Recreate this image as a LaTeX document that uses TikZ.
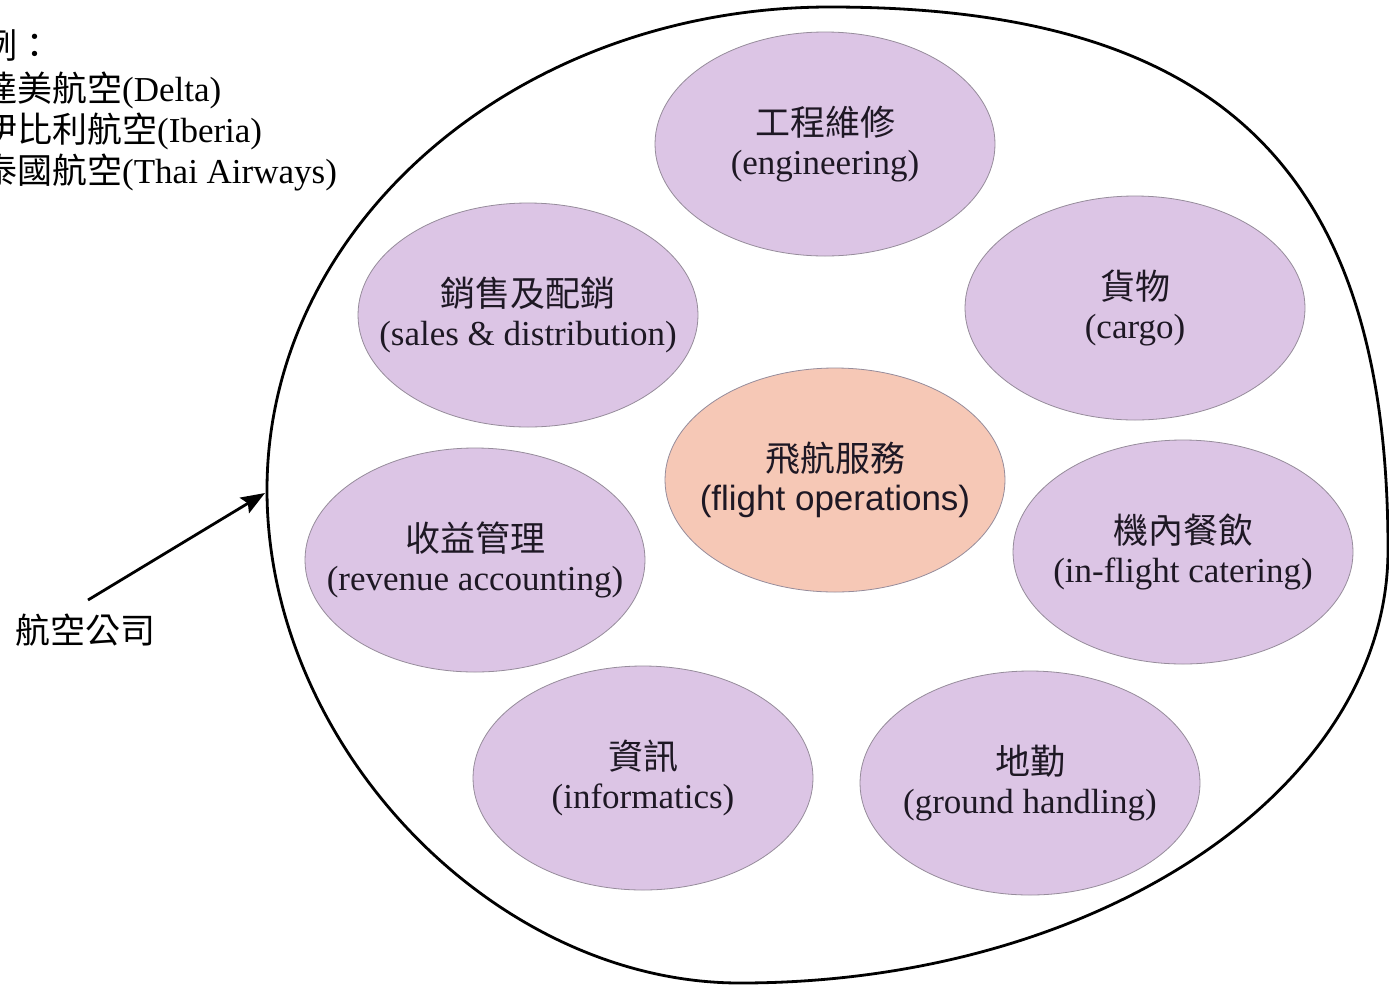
\documentclass[tikz,border=0pt]{standalone}
\usepackage{fontspec}
\setmainfont{Liberation Serif}
\newfontfamily\cjk{Noto Sans CJK TC}
\newfontfamily\arialf{Liberation Sans}
\usetikzlibrary{shapes.geometric,arrows.meta}
\definecolor{lav}{RGB}{220,197,229}
\definecolor{peach}{RGB}{246,200,182}
\definecolor{rimgray}{RGB}{150,140,155}
\definecolor{txt}{RGB}{30,24,36}
\tikzset{
  unit/.style={ellipse, draw=rimgray, line width=0.8pt, fill=lav,
    minimum width=340pt, minimum height=224pt, inner sep=0pt},
  core/.style={unit, fill=peach},
  caption/.style={inner sep=0pt, align=center, text=txt,
    font=\fontsize{35}{39}\selectfont},
  corecaption/.style={caption, font=\arialf\fontsize{35}{39}\selectfont},
  legend/.style={anchor=base west, inner sep=0pt, font=\fontsize{35}{41}\selectfont},
  rim/.style={line width=2.8pt},
  pointer/.style={line width=2.8pt, -{Stealth[length=24pt,width=18pt,inset=4pt]}}
}
\begin{document}
\begin{tikzpicture}[x=1pt,y=-1pt]
\useasboundingbox[fill=white] (0,0) rectangle (1389,986);

% outer airline boundary
\draw[rim] (267,490)
  .. controls (267,223) and (519,7) .. (830,7)
  .. controls (1221,7) and (1388,170) .. (1388,550)
  .. controls (1388,789) and (1098,983) .. (740,983)
  .. controls (494,983) and (267,746) .. (267,490) -- cycle;

% legend text
\node[legend] (l0) at (-18,58) {\cjk 例：};
\node[legend] (l1) at (-18,101) {{\cjk 達美航空}(Delta)};
\node[legend] (l2) at (-18,142) {{\cjk 伊比利航空}(Iberia)};
\node[legend] (l3) at (-18,183) {{\cjk 泰國航空}(Thai Airways)};

% label + arrow
\node[legend] (airline) at (15,643) {\cjk 航空公司};
\coordinate (tail) at (88,600);
\coordinate (head) at (265,493);
\draw[pointer] (tail) -- (head);

% units
\node[unit] (eng) at (825,144) {};
\node[unit] (cargo) at (1135,308) {};
\node[unit] (sales) at (528,315) {};
\node[core] (flight) at (835,480) {};
\node[unit] (rev) at (475,560) {};
\node[unit] (cater) at (1183,552) {};
\node[unit] (info) at (643,778) {};
\node[unit] (ground) at (1030,783) {};

\node[caption] (engt) at (eng) {{\cjk 工程維修}\\(engineering)};
\node[caption] (cargot) at (cargo) {{\cjk 貨物}\\(cargo)};
\node[caption] (salest) at (sales) {{\cjk 銷售及配銷}\\(sales \& distribution)};
\node[corecaption] (flightt) at (flight) {{\cjk 飛航服務}\\(flight operations)};
\node[caption] (revt) at (rev) {{\cjk 收益管理}\\(revenue accounting)};
\node[caption] (catert) at (cater) {{\cjk 機內餐飲}\\(in-flight catering)};
\node[caption] (infot) at (info) {{\cjk 資訊}\\(informatics)};
\node[caption] (groundt) at (ground) {{\cjk 地勤}\\(ground handling)};
\end{tikzpicture}
\end{document}
